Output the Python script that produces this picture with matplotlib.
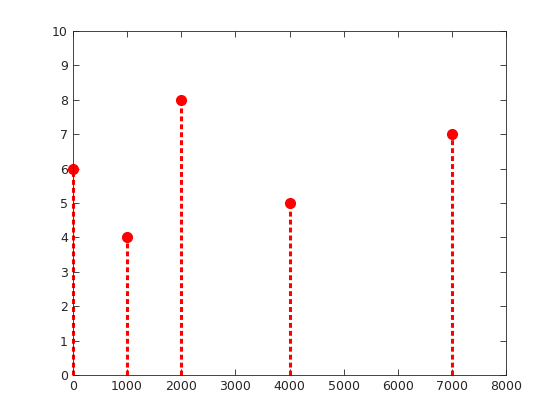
import matplotlib
matplotlib.use("Agg")
import matplotlib.pyplot as plt

x_vals = [0, 1000, 2000, 4000, 7000]
y_vals = [6, 4, 8, 5, 7]
x_ticks = [0, 1000, 2000, 3000, 4000, 5000, 6000, 7000, 8000]
y_ticks = [0, 1, 2, 3, 4, 5, 6, 7, 8, 9, 10]


def main():
    fig = plt.figure(figsize=(5.6, 4.2), dpi=100)
    ax = fig.add_axes([0.13, 0.107, 0.774, 0.819])

    markerline, stemlines, baseline = ax.stem(x_vals, y_vals, linefmt='r--', markerfmt='ro', basefmt=' ')
    stemlines.set_linewidth(2.2)
    stemlines.set_linestyle((0, (1.6, 1.0)))
    stemlines.set_clip_on(False)
    markerline.set_markersize(7)
    markerline.set_clip_on(False)

    ax.set_xlim(0, 8000)
    ax.set_ylim(0, 10)
    ax.set_xticks(x_ticks)
    ax.set_yticks(y_ticks)
    ax.tick_params(direction='in', top=True, right=True, length=4, width=0.6,
                   labelsize=9, colors='#262626')
    for s in ax.spines.values():
        s.set_linewidth(0.6)
        s.set_color('#262626')

    fig.savefig("out.png", dpi=100)


if __name__ == "__main__":
    main()
